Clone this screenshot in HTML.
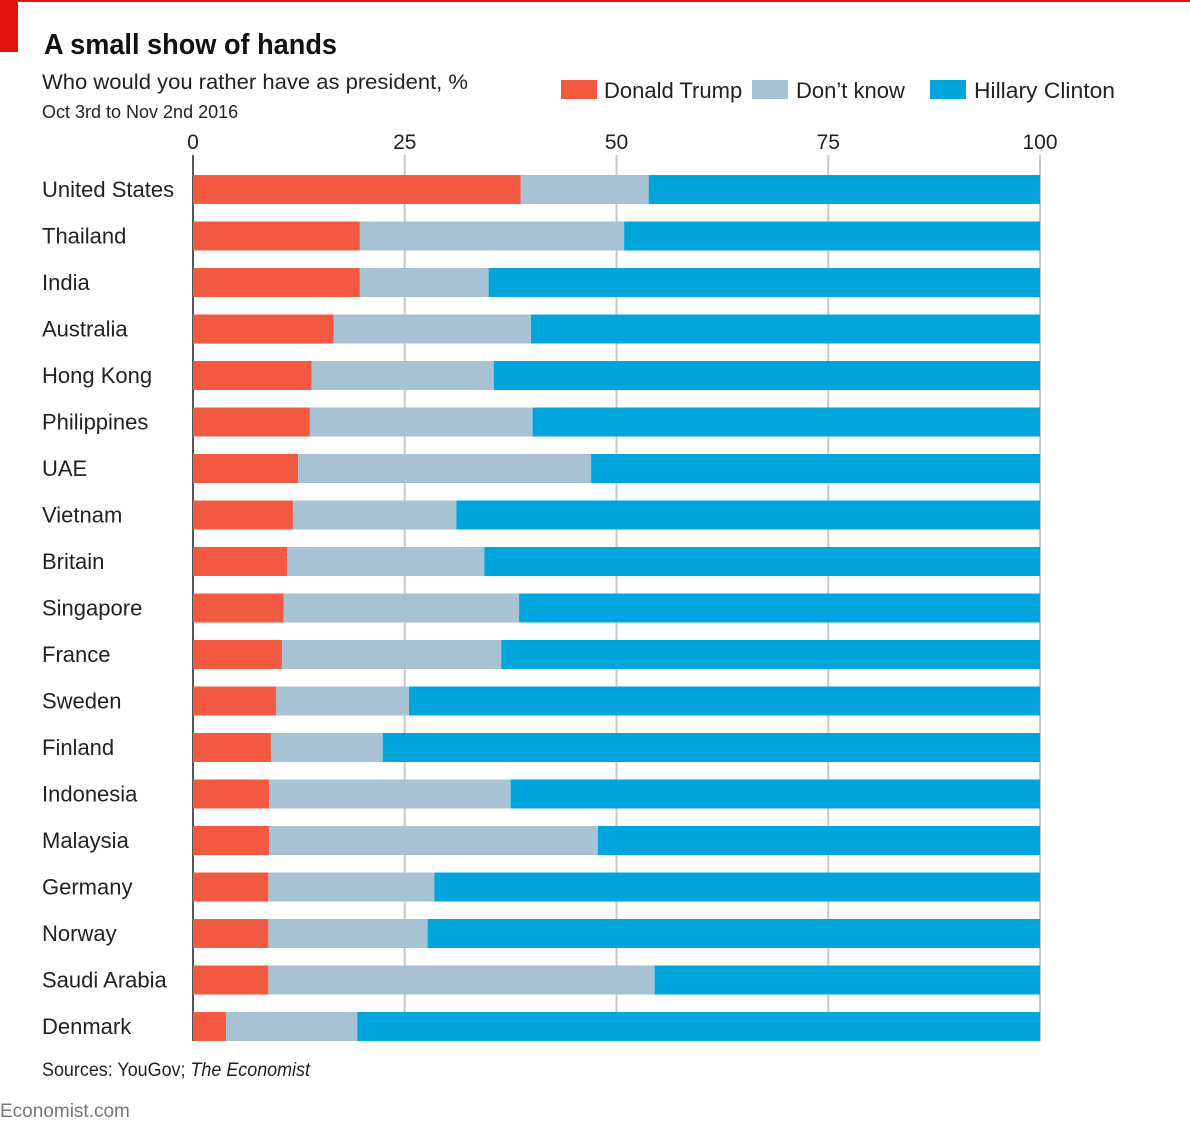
<!DOCTYPE html>
<html><head><meta charset="utf-8"><style>
body{margin:0;background:#fff;width:1190px;height:1130px;overflow:hidden;font-family:"Liberation Sans",sans-serif;}
</style></head><body>
<svg id="c" width="1190" height="1130" xmlns="http://www.w3.org/2000/svg">
<rect x="0" y="0" width="1190" height="2" fill="#e3120b"/>
<rect x="0" y="0" width="18" height="52" fill="#e3120b"/>
<text x="44" y="54" font-size="29" font-weight="bold" fill="#111" textLength="293" lengthAdjust="spacingAndGlyphs">A small show of hands</text>
<text x="42" y="89" font-size="21" fill="#222" textLength="426" lengthAdjust="spacingAndGlyphs">Who would you rather have as president, %</text>
<text x="42" y="118" font-size="18" fill="#222">Oct 3rd to Nov 2nd 2016</text>
<g>
<rect x="561" y="80" width="36" height="19" fill="#f15a40"/>
<text x="604" y="98" font-size="22" fill="#222">Donald Trump</text>
<rect x="752" y="80" width="36" height="19" fill="#a7c2d3"/>
<text x="796" y="98" font-size="22" fill="#222">Don’t know</text>
<rect x="930" y="80" width="36" height="19" fill="#00a5de"/>
<text x="974" y="98" font-size="22" fill="#222" textLength="141" lengthAdjust="spacingAndGlyphs">Hillary Clinton</text>
</g>
<g id="grid"></g><g id="bars"></g><g id="labels"></g>
<text x="42" y="1076" font-size="19" fill="#222" textLength="268" lengthAdjust="spacingAndGlyphs">Sources: YouGov; <tspan font-style="italic">The Economist</tspan></text>
<text x="0" y="1117" font-size="19" fill="#777">Economist.com</text>
</svg>
<script>
const countries=["United States","Thailand","India","Australia","Hong Kong","Philippines","UAE","Vietnam","Britain","Singapore","France","Sweden","Finland","Indonesia","Malaysia","Germany","Norway","Saudi Arabia","Denmark"];
const trump=[38.7,19.7,19.7,16.6,14.0,13.8,12.4,11.8,11.1,10.7,10.5,9.8,9.2,9.0,9.0,8.9,8.9,8.9,3.9];
const dontKnow=[15.1,31.2,15.2,23.3,21.5,26.3,34.6,19.3,23.3,27.8,25.9,15.7,13.2,28.5,38.8,19.6,18.8,45.6,15.5];
const ticks=[0,25,50,75,100];
const NS="http://www.w3.org/2000/svg";
const x=v=>193+v*8.47;
const y=i=>175+i*46.5;
const BH=29;
function mk(t,a,p){const e=document.createElementNS(NS,t);for(const k in a)e.setAttribute(k,a[k]);p.appendChild(e);return e;}
const g=document.getElementById('grid'),b=document.getElementById('bars'),l=document.getElementById('labels');
ticks.forEach(t=>{
 const ln=mk('line',{x1:x(t),x2:x(t),y1:155,y2:1041,stroke:t===0?'#555':'#c8c8c8','stroke-width':2},g);
 
 
 const tx=mk('text',{x:x(t),y:149,'font-size':21,fill:'#222','text-anchor':'middle'},g);
 tx.textContent=t;
 
 
});
countries.forEach((c,i)=>{
 const t=trump[i],d=dontKnow[i],cl=100-t-d;
 const slug=c.toLowerCase().replace(/ /g,'-');
 const r1=mk('rect',{x:x(0),y:y(i),width:x(t)-x(0),height:BH,fill:'#f15a40'},b);
 
 
 const r2=mk('rect',{x:x(t),y:y(i),width:x(t+d)-x(t),height:BH,fill:'#a7c2d3'},b);
 
 
 const r3=mk('rect',{x:x(t+d),y:y(i),width:x(t+d+cl)-x(t+d),height:BH,fill:'#00a5de'},b);
 
 
 const tx=mk('text',{x:42,y:y(i)+22,'font-size':22,fill:'#222'},l);
 tx.textContent=c;
 
 
});
</script>
</body></html>
